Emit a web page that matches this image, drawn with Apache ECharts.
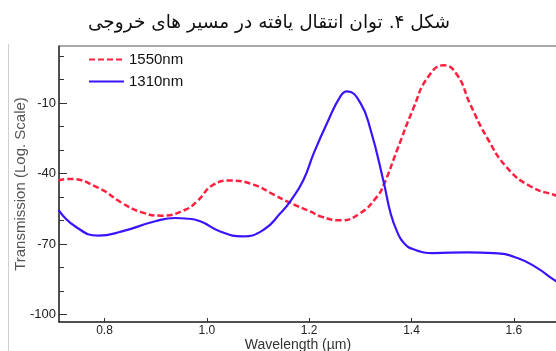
<!DOCTYPE html>
<html>
<head>
<meta charset="utf-8">
<script src="https://cdn.jsdelivr.net/npm/echarts@6/dist/echarts.min.js"></script>
<style>
  html, body {margin: 0; padding: 0; background: #fff;}
  #chart {width: 556px; height: 351px;}
</style>
</head>
<body>
<div id="chart"></div>
<script>
// wavelength (um) and transmission
const wl1550 = [0.71, 0.73, 0.788, 0.834, 0.873, 0.912, 0.958, 0.981, 1.013, 1.046, 1.091, 1.131, 1.163, 1.202, 1.222, 1.261, 1.30, 1.333, 1.346, 1.372, 1.404, 1.431, 1.463, 1.489, 1.515, 1.548, 1.587, 1.633, 1.678, 1.70];
const tr1550 = [-42.9, -42.3, -46.1, -52.5, -56.5, -57.9, -55.4, -51.8, -44.7, -43.0, -44.7, -49.0, -52.5, -56.1, -58.2, -59.9, -56.8, -49.7, -44.7, -29.9, -12.1, 0.6, 6.0, 2.0, -10.7, -24.9, -37.6, -45.5, -49.0, -50.0];
const wl1310 = [0.71, 0.743, 0.788, 0.834, 0.899, 0.938, 0.958, 0.987, 1.026, 1.069, 1.111, 1.144, 1.163, 1.189, 1.209, 1.235, 1.261, 1.274, 1.30, 1.32, 1.346, 1.359, 1.372, 1.385, 1.404, 1.443, 1.509, 1.561, 1.607, 1.646, 1.678, 1.70];
const tr1310 = [-55.4, -62.5, -66.4, -64.6, -60.3, -58.9, -59.1, -60.3, -64.6, -66.7, -63.9, -56.8, -51.8, -42.6, -31.3, -18.5, -7.2, -5.1, -10.0, -21.4, -44.0, -56.8, -64.8, -69.5, -72.2, -73.8, -73.5, -73.8, -75.9, -80.2, -85.1, -88.0];

const xTicks = [0.8, 1.0, 1.2, 1.4, 1.6];
const yLabels = [-100, -70, -40, -10];
const yMinorTicks = [-100, -90, -80, -70, -60, -50, -40, -30, -20, -10, 0, 10];

const titleText = 'شکل ۴. توان انتقال یافته در مسیر های خروجی';

const chart = echarts.init(document.getElementById('chart'));

const zip = (xs, ys) => xs.map((x, i) => [x, ys[i]]);

const option = {
  animation: false,
  title: {
    text: titleText,
    left: 264,
    textAlign: 'center',
    top: 9,
    textStyle: {fontFamily: 'DejaVu Sans', fontSize: 18.5, fontWeight: 'normal', color: '#111'},
  },
  graphic: [
    {type: 'line', shape: {x1: 8.5, y1: 44, x2: 8.5, y2: 351}, style: {stroke: '#cfcfcf', lineWidth: 1}},
  ],
  legend: {
    orient: 'vertical',
    left: 83,
    top: 47,
    itemWidth: 35,
    itemHeight: 14,
    itemGap: 7,
    itemStyle: {opacity: 0},
    textStyle: {fontFamily: 'Liberation Sans', fontSize: 15, color: '#111'},
    data: ['1550nm', '1310nm'],
  },
  grid: {
    left: 59,
    top: 46,
    width: 506,
    height: 276,
    outerBoundsMode: 'none',
    show: true,
    borderColor: '#555',
    borderWidth: 1,
  },
  xAxis: {
    type: 'value',
    min: 0.711,
    max: 1.7,
    name: 'Wavelength (µm)',
    nameLocation: 'middle',
    nameGap: 16,
    nameMoveOverlap: false,
    nameTextStyle: {fontFamily: 'Liberation Sans', fontSize: 14, color: '#333', padding: [0, 28, 0, 0]},
    axisLine: {onZero: false, lineStyle: {color: '#333', width: 1.5}},
    axisTick: {inside: true, length: 4, customValues: xTicks, lineStyle: {color: '#333'}},
    axisLabel: {
      customValues: xTicks,
      margin: 3,
      fontFamily: 'Liberation Sans',
      fontSize: 12,
      color: '#222',
      formatter: (v) => v.toFixed(1),
    },
    splitLine: {show: false},
  },
  yAxis: [
    {
      type: 'value',
      min: -103.1,
      max: 14.2,
      name: 'Transmission (Log. Scale)',
      nameLocation: 'middle',
      nameGap: 31,
      nameMoveOverlap: false,
      nameTextStyle: {fontFamily: 'Liberation Sans', fontSize: 15, color: '#555'},
      axisLine: {show: true, onZero: false, lineStyle: {color: '#333', width: 1.5}},
      axisTick: {inside: true, length: 5, customValues: yMinorTicks, lineStyle: {color: '#333'}},
      axisLabel: {
        customValues: yLabels,
        margin: 3,
        fontFamily: 'Liberation Sans',
        fontSize: 13,
        color: '#222',
      },
      splitLine: {show: false},
    },
    {
      type: 'value',
      position: 'left',
      min: -103.1,
      max: 14.2,
      axisLine: {show: false},
      axisTick: {show: true, inside: true, length: 8, customValues: yLabels, lineStyle: {color: '#333'}},
      axisLabel: {show: false},
      splitLine: {show: false},
    },
  ],
  series: [
    {
      name: '1550nm',
      type: 'line',
      smooth: true,
      symbol: 'none',
      itemStyle: {color: '#ff1f3f'},
      lineStyle: {color: '#ff1f3f', width: 2.5, type: [6, 3]},
      data: zip(wl1550, tr1550),
    },
    {
      name: '1310nm',
      type: 'line',
      smooth: true,
      symbol: 'none',
      itemStyle: {color: '#3a14ff'},
      lineStyle: {color: '#3a14ff', width: 2.2},
      data: zip(wl1310, tr1310),
    },
  ],
};

chart.setOption(option);
</script>
</body>
</html>
